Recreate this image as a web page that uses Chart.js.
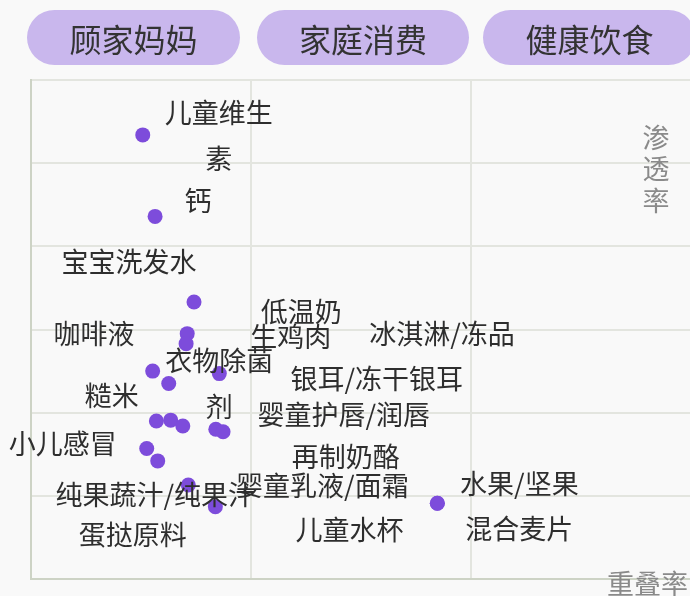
<!DOCTYPE html>
<html><head><meta charset="utf-8">
<script src="https://cdn.jsdelivr.net/npm/chart.js@4"></script>
<style>
html,body{margin:0;padding:0;background:#f9f9f9;overflow:hidden;width:690px;height:596px;}
#wrap{position:relative;width:720px;height:596px;overflow:hidden;}
canvas{position:absolute;left:0;top:0;}
.tab{position:absolute;top:10px;width:213px;height:55px;border-radius:28px;background:#c9b7ed;color:#333;font-size:32px;font-family:"Noto Sans CJK SC";display:flex;align-items:center;justify-content:center;}
.tab:nth-of-type(1){left:27px;}
.tab:nth-of-type(2){left:257px;width:212px;}
.tab:nth-of-type(3){left:483px;}
</style></head>
<body>
<div id="wrap">
<canvas id="c" width="700" height="596"></canvas>
<div id="tabs"></div>
</div>
<script>
const tabs = ['顾家妈妈','家庭消费','健康饮食'];
const names = ['儿童维生素','钙','宝宝洗发水','低温奶','咖啡液','衣物除菌剂','糙米','生鸡肉','儿童水杯','再制奶酪','婴童护唇/润唇','银耳/冻干银耳','冰淇淋/冻品','小儿感冒','蛋挞原料','纯果蔬汁/纯果汁','婴童乳液/面霜','水果/坚果','混合麦片'];
const overlapRate = [5.08,5.64,7.41,7.10,7.05,8.56,5.53,6.26,5.70,6.35,6.90,8.40,8.73,5.26,5.76,7.15,8.38,18.47,18.47];
const penetrationRate = [53.4,43.6,33.3,29.5,28.3,24.7,25.0,23.5,19.0,19.1,18.4,18.0,17.7,15.7,14.2,11.3,8.7,9.1,9.1];
const xTitle = '重叠率';
const yTitle = '渗透率';

// label layout (offset from point in px, chars on first line when wrapped)
const labelDx = [76,43,-65,114,-92,0,-41,122,193,175,161,161,219,-84,-25,-33,107,82,82];
const labelDy = [-22,-16,-40,-22,-10,-13,25,-47,109,37,-11,-51,-98,-5,74,10,-21,-20,25];
const labelBreak = [4,0,0,0,0,4,0,0,0,0,0,0,0,0,0,0,0,0,0];

const tabsEl = document.getElementById('tabs');
tabs.forEach(t=>{const d=document.createElement('div');d.className='tab';d.textContent=t;tabsEl.appendChild(d);});

const labelPlugin = {
  id:'labels',
  afterDatasetsDraw(chart){
    const ctx = chart.ctx, meta = chart.getDatasetMeta(0), ca = chart.chartArea;
    ctx.save();
    ctx.font = '27px "Noto Sans CJK SC"';
    ctx.fillStyle = '#2e2e2e';
    ctx.textAlign = 'center';
    ctx.textBaseline = 'middle';
    meta.data.forEach((pt,i)=>{
      const n = names[i], b = labelBreak[i];
      const lines = b ? [n.slice(0,b), n.slice(b)] : [n];
      lines.forEach((ln,j)=>ctx.fillText(ln, pt.x+labelDx[i], pt.y+labelDy[i]+j*46));
    });
    ctx.font = '27px "Noto Sans CJK SC"';
    ctx.fillStyle = '#8a8a8a';
    Array.from(yTitle).forEach((ch,j)=>ctx.fillText(ch, ca.right-35, ca.top+57.5+j*31.5));
    ctx.textAlign = 'right';
    ctx.fillText(xTitle, ca.right-3, ca.bottom+5);
    ctx.restore();
  }
};

const gridOpt = {color:'#e3e5df', lineWidth:2, drawTicks:false};
const borderOpt = {color:'#cdd3c5', width:2};
new Chart(document.getElementById('c'), {
  type:'scatter',
  data:{datasets:[{
    data: overlapRate.map((x,i)=>({x:x, y:penetrationRate[i]})),
    backgroundColor:'#7d4cdb', borderWidth:0, pointRadius:7.5, pointHoverRadius:7.5
  }]},
  options:{
    responsive:false, animation:false, events:[],
    layout:{padding:{left:31,top:80,right:9,bottom:17}},
    plugins:{legend:{display:false}, tooltip:{enabled:false}},
    scales:{
      x:{type:'linear', min:0, max:30, ticks:{display:false, stepSize:10}, grid:gridOpt, border:borderOpt},
      y:{type:'linear', min:0, max:60, ticks:{display:false, stepSize:10}, grid:gridOpt, border:borderOpt}
    }
  },
  plugins:[labelPlugin]
});
</script>
</body></html>
